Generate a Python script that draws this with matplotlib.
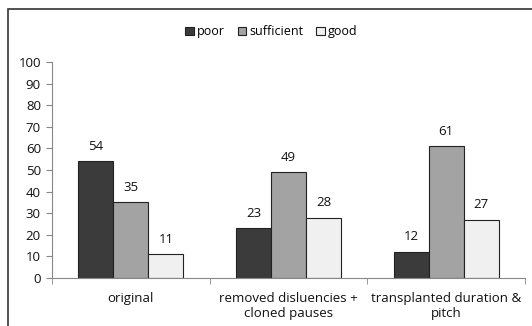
import matplotlib
matplotlib.use("Agg")
import matplotlib.pyplot as plt
import numpy as np
from matplotlib.patches import Rectangle

categories = ["original", "removed disluencies +\ncloned pauses", "transplanted duration &\npitch"]
series_names = ["poor", "sufficient", "good"]
poor = [54, 23, 12]
sufficient = [35, 49, 61]
good = [11, 28, 27]
yticks = [0, 10, 20, 30, 40, 50, 60, 70, 80, 90, 100]

colors = ["#3b3b3b", "#a3a3a3", "#f0f0f0"]
plt.rcParams["font.family"] = ["Open Sans", "DejaVu Sans"]
fs = 9.5
txt = "#111111"

fig = plt.figure(figsize=(5.32, 3.26), dpi=100)
fig.patch.set_facecolor("white")

# chart frame
fig.add_artist(Rectangle((8 / 532, -0.1), 1.2, 0.1 + (1 - 9 / 326),
                         transform=fig.transFigure, fill=False,
                         edgecolor="#333333", linewidth=1.2))

ax = fig.add_axes([52 / 532, 1 - 278 / 326, (525 - 52) / 532, (278 - 62) / 326])
x = np.arange(len(categories))
w = 0.222
for i, (vals, col, name) in enumerate(zip([poor, sufficient, good], colors, series_names)):
    bars = ax.bar(x + (i - 1) * w, vals, w, color=col, edgecolor="#222222",
                  linewidth=0.8, label=name)
    for b, v in zip(bars, vals):
        ax.text(b.get_x() + b.get_width() / 2, v + 4, str(v), ha="center",
                va="bottom", fontsize=fs, color=txt)

ax.set_xlim(-0.5, 2.5)
ax.set_ylim(0, 100)
ax.set_yticks(yticks)
ax.tick_params(axis="y", labelsize=fs, length=4, color="#888888", colors=txt, pad=4)
ax.set_xticks(x)
ax.set_xticklabels(categories, fontsize=fs, color=txt, linespacing=1.25)
ax.set_xticks([-0.5, 0.5, 1.5, 2.5], minor=True)
ax.tick_params(axis="x", which="major", length=0, pad=10)
ax.tick_params(axis="x", which="minor", length=4, color="#888888")
for s in ["top", "right"]:
    ax.spines[s].set_visible(False)
for s in ["left", "bottom"]:
    ax.spines[s].set_color("#888888")
    ax.spines[s].set_linewidth(0.8)

fig.legend(loc="center", bbox_to_anchor=(0.51, 0.902), ncol=3, frameon=False,
           fontsize=9, handlelength=0.7, handleheight=0.7, handletextpad=0.25,
           columnspacing=1.0)

fig.savefig("out.png", dpi=100)
